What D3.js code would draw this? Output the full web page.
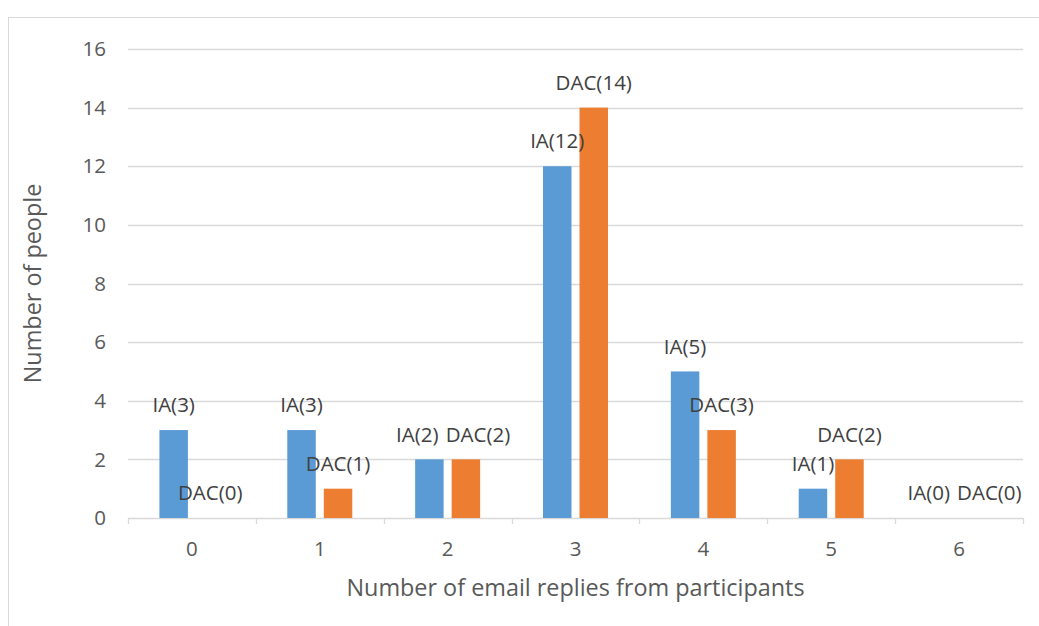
<!DOCTYPE html>
<html>
<head>
<meta charset="utf-8">
<script src="https://cdn.jsdelivr.net/npm/d3@7"></script>
<style>
  body { margin: 0; background: #fff; }
  text { font-family: "Open Sans", sans-serif; }
</style>
</head>
<body>
<svg id="chart" width="1039" height="626"></svg>
<script>
// data
var categories = ["0", "1", "2", "3", "4", "5", "6"];
var seriesNames = ["IA", "DAC"];
var iaValues = [3, 3, 2, 12, 5, 1, 0];
var dacValues = [0, 1, 2, 14, 3, 2, 0];
var yTicks = [0, 2, 4, 6, 8, 10, 12, 14, 16];

var colors = { IA: "#5b9bd5", DAC: "#ed7d31" };

var svg = d3.select("#chart"),
    width = +svg.attr("width"),
    height = +svg.attr("height");

var plotLeft = 128, plotRight = 1023, plotTop = 49, plotBottom = 518;

// outer chart border
svg.append("rect")
    .attr("x", 8.5).attr("y", 17.5)
    .attr("width", 1100).attr("height", 700)
    .attr("fill", "none")
    .attr("stroke", "#d9d9d9");

var x = d3.scaleBand().domain(categories).range([plotLeft, plotRight]);
var groupW = 65;
var x1 = d3.scaleBand().domain(seriesNames).range([0, groupW]).paddingInner(0.22);
var y = d3.scaleLinear().domain([0, 16]).range([plotBottom, plotTop]);

// gridlines
svg.append("g")
  .selectAll("line")
  .data(yTicks.filter(function(d) { return d > 0; }))
  .enter().append("line")
    .attr("x1", plotLeft).attr("x2", plotRight)
    .attr("y1", function(d) { return Math.round(y(d)) + 0.5; })
    .attr("y2", function(d) { return Math.round(y(d)) + 0.5; })
    .attr("stroke", "#d9d9d9")
    .attr("stroke-width", 1.3);

// y tick labels
svg.append("g")
  .selectAll("text")
  .data(yTicks)
  .enter().append("text")
    .attr("x", 106)
    .attr("y", function(d) { return y(d); })
    .attr("dy", "0.35em")
    .attr("text-anchor", "end")
    .attr("fill", "#595959")
    .attr("font-size", 20.5)
    .text(function(d) { return d; });

// x axis line + ticks
svg.append("line")
    .attr("x1", plotLeft).attr("x2", plotRight)
    .attr("y1", plotBottom + 0.5).attr("y2", plotBottom + 0.5)
    .attr("stroke", "#d9d9d9").attr("stroke-width", 1.3);
var bounds = categories.map(function(c) { return x(c); }).concat([plotRight]);
svg.append("g")
  .selectAll("line")
  .data(bounds)
  .enter().append("line")
    .attr("x1", function(d) { return Math.round(d) + 0.5; })
    .attr("x2", function(d) { return Math.round(d) + 0.5; })
    .attr("y1", plotBottom).attr("y2", plotBottom + 6)
    .attr("stroke", "#d9d9d9").attr("stroke-width", 1.3);

svg.append("g")
  .selectAll("text")
  .data(categories)
  .enter().append("text")
    .attr("x", function(d) { return x(d) + x.bandwidth() / 2; })
    .attr("y", 549)
    .attr("dy", "0.35em")
    .attr("text-anchor", "middle")
    .attr("fill", "#595959")
    .attr("font-size", 20.5)
    .text(function(d) { return d; });

// bars
var rows = categories.map(function(c, i) {
  return { cat: c, values: [
    { key: "IA", value: iaValues[i] },
    { key: "DAC", value: dacValues[i] }
  ]};
});

var off = (x.bandwidth() - groupW) / 2;
var group = svg.append("g")
  .selectAll("g")
  .data(rows)
  .enter().append("g")
    .attr("transform", function(d) { return "translate(" + (x(d.cat) + off) + ",0)"; });

group.selectAll("rect")
  .data(function(d) { return d.values; })
  .enter().append("rect")
    .attr("x", function(d) { return x1(d.key); })
    .attr("y", function(d) { return y(d.value); })
    .attr("width", x1.bandwidth())
    .attr("height", function(d) { return plotBottom - y(d.value); })
    .attr("fill", function(d) { return colors[d.key]; });

// data labels, centred above bars, pushed apart when they collide
var labels = group.selectAll("text")
  .data(function(d) { return d.values; })
  .enter().append("text")
    .attr("x", function(d) { return x1(d.key) + x1.bandwidth() / 2; })
    .attr("y", function(d) { return y(d.value) - 25; })
    .attr("dy", "0.35em")
    .attr("text-anchor", "middle")
    .attr("fill", "#404040")
    .attr("font-size", 20.5)
    .text(function(d) { return d.key + "(" + d.value + ")"; });

group.each(function() {
  var t = d3.select(this).selectAll("text").nodes();
  var a = t[0], b = t[1];
  if (+a.getAttribute("y") !== +b.getAttribute("y")) return;
  var wa = a.getComputedTextLength(), wb = b.getComputedTextLength();
  var ax = +a.getAttribute("x"), bx = +b.getAttribute("x");
  var overlap = (ax + wa / 2) - (bx - wb / 2) + 7;
  if (overlap > 0) {
    a.setAttribute("x", ax - overlap / 2);
    b.setAttribute("x", bx + overlap / 2);
  }
});

// axis titles
svg.append("text")
    .attr("x", (plotLeft + plotRight) / 2)
    .attr("y", 588)
    .attr("dy", "0.35em")
    .attr("text-anchor", "middle")
    .attr("fill", "#595959")
    .attr("font-size", 23.4)
    .text("Number of email replies from participants");

svg.append("text")
    .attr("transform", "translate(33," + (plotTop + plotBottom) / 2 + ") rotate(-90)")
    .attr("dy", "0.35em")
    .attr("text-anchor", "middle")
    .attr("fill", "#595959")
    .attr("font-size", 23.4)
    .text("Number of people");
</script>
</body>
</html>
